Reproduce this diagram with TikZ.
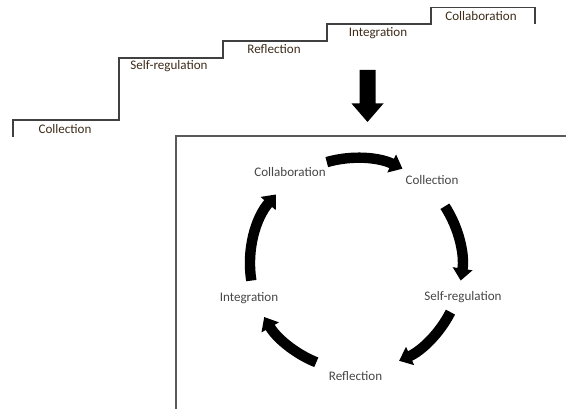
\documentclass[tikz,border=0pt]{standalone}
\usepackage{fontspec}
\setmainfont{Carlito}
\usetikzlibrary{arrows.meta,calc}
\definecolor{stairtext}{RGB}{62,44,26}
\definecolor{stairline}{RGB}{64,64,64}
\definecolor{cycletext}{RGB}{70,70,70}
\definecolor{boxline}{RGB}{90,90,90}
\begin{document}
\begin{tikzpicture}[x=0.75pt,y=-0.75pt,
  stairlbl/.style={text=stairtext,font=\fontsize{9.8}{12}\selectfont,inner sep=0pt},
  cyclbl/.style={text=cycletext,font=\fontsize{9.8}{12}\selectfont,inner sep=0pt},
  stairs/.style={draw=stairline,line width=1.1pt},
  framel/.style={draw=boxline,line width=1.4pt},
  cycarrow/.style={line width=7.8pt,-{Triangle[width=14.5pt,length=9pt]}}]
\useasboundingbox (0,0) rectangle (566,409);
% staircase
\draw[stairs] (13,137) -- (13,120) -- (119,120) -- (119,58) -- (223,58) -- (223,41)
  -- (327,41) -- (327,24) -- (431,24) -- (431,7.5) -- (535,7.5) -- (535,24);
\node[stairlbl] (s1) at (65,129) {Collection};
\node[stairlbl] (s2) at (169,66.5) {Self-regulation};
\node[stairlbl] (s3) at (274,49.5) {Reflection};
\node[stairlbl] (s4) at (378,33) {Integration};
\node[stairlbl] (s5) at (481,16.5) {Collaboration};
% big down arrow
\fill (359.5,70) -- (375.5,70) -- (375.5,103.5) -- (383.5,103.5) -- (367.5,122)
  -- (351.5,103.5) -- (359.5,103.5) -- cycle;
% frame
\draw[framel] (176,409) -- (176,136) -- (566,136);
% cycle
\coordinate (c) at (356,264);
\node[cyclbl] (collab) at (290,172) {Collaboration};
\node[cyclbl] (collect) at (432,180) {Collection};
\node[cyclbl] (selfreg) at (463,297) {Self-regulation};
\node[cyclbl] (reflect) at (355.5,376.5) {Reflection};
\node[cyclbl] (integr) at (249,298) {Integration};
\draw[cycarrow] ($(c)+(-106:106)$) arc[start angle=-106, end angle=-64, radius=106];
\draw[cycarrow] ($(c)+(-33:106)$) arc[start angle=-33, end angle=9, radius=106];
\draw[cycarrow] ($(c)+(27:106)$) arc[start angle=27, end angle=66, radius=106];
\draw[cycarrow] ($(c)+(112:106)$) arc[start angle=112, end angle=150, radius=106];
\draw[cycarrow] ($(c)+(171:106)$) arc[start angle=171, end angle=221, radius=106];
\end{tikzpicture}
\end{document}
